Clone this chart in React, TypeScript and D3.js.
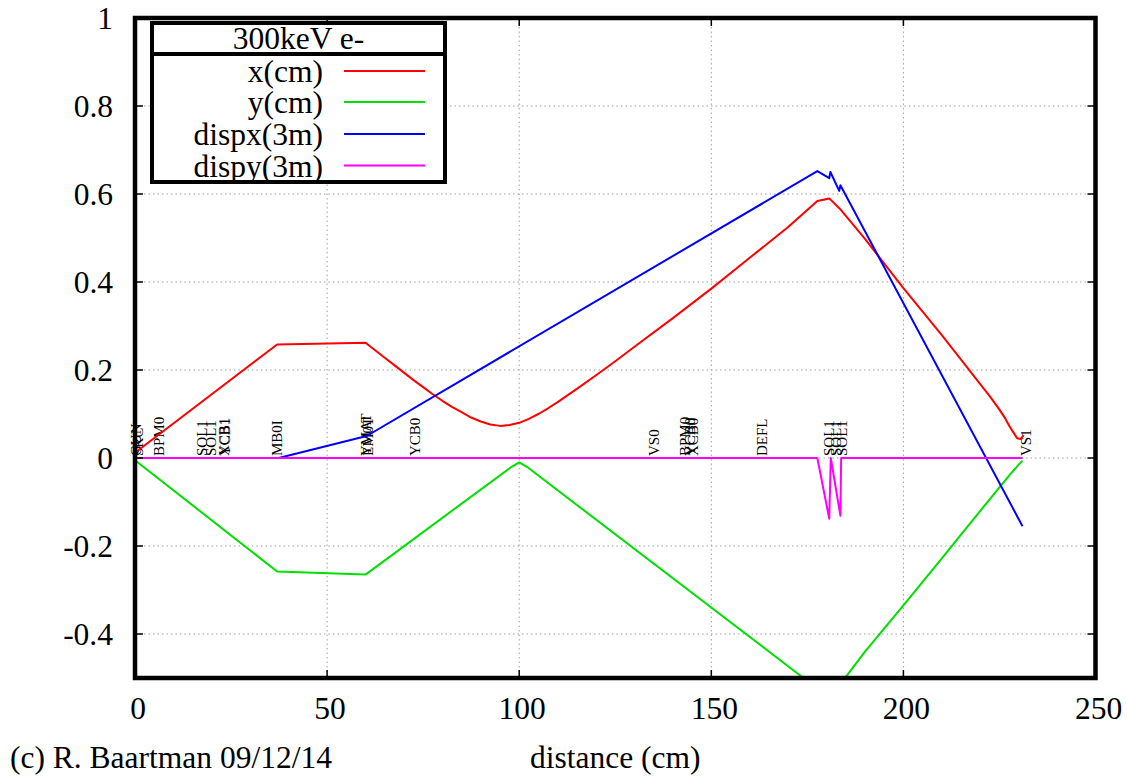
import React from "react";
import * as d3 from "d3";

// ---- data ----
const xTicks = [0, 50, 100, 150, 200, 250];
const yTicks = [1, 0.8, 0.6, 0.4, 0.2, 0, -0.2, -0.4];
const yTickLabels = ["1", "0.8", "0.6", "0.4", "0.2", "0", "-0.2", "-0.4"];

// x(cm) envelope
const xcmS = [0, 37, 60, 62.5, 65, 67.5, 70, 72.5, 75, 77.5, 80, 82.5, 85, 87.5, 90, 92.5, 95, 97.5, 100, 102.5, 105, 107.5, 110, 115, 120, 125, 130, 140, 150, 160, 170, 177.6, 180.7, 183.5, 190, 200, 210, 220, 222.5, 225, 226.5, 227.5, 228.5, 229.6, 230.5, 231.3];
const xcmV = [0.012, 0.258, 0.262, 0.245, 0.228, 0.211, 0.194, 0.177, 0.161, 0.145, 0.13, 0.116, 0.104, 0.092, 0.083, 0.076, 0.073, 0.075, 0.08, 0.089, 0.1, 0.113, 0.127, 0.157, 0.188, 0.22, 0.253, 0.318, 0.385, 0.455, 0.525, 0.584, 0.59, 0.566, 0.498, 0.386, 0.279, 0.168, 0.14, 0.11, 0.09, 0.074, 0.06, 0.045, 0.043, 0.052];

// y(cm) envelope (negative)
const ycmS = [0, 37, 60, 98, 100, 102, 174, 177.6, 180.7, 183.5, 190, 200, 210, 220, 228, 230, 231];
const ycmV = [-0.005, -0.258, -0.265, -0.02, -0.01, -0.02, -0.5, -0.523, -0.53, -0.515, -0.44, -0.335, -0.228, -0.12, -0.035, -0.015, -0.006];

// dispersion x (3m)
const dispxS = [37.4, 60.3, 177.6, 180.7, 181.0, 183.3, 183.6, 231];
const dispxV = [0, 0.05, 0.652, 0.636, 0.65, 0.607, 0.62, -0.155];

// dispersion y (3m)
const dispyS = [0, 177.6, 180.7, 181.1, 183.6, 183.8, 231];
const dispyV = [0, 0, -0.138, 0, -0.131, 0, 0];

// beamline element labels
const elemNames = ["GUN", "SRC", "BPM0", "SOL1", "SOL1", "XCB1", "YCB1", "MB0I", "YMAT", "EM0T", "YCB0", "VS0", "BPM0", "YCB0", "XCB0", "DEFL", "SOL1", "SOL1", "SOL1", "VS1"];
const elemPos = [0.3, 0.8, 6.3, 17.4, 19.6, 23.0, 23.4, 36.9, 60.1, 60.6, 72.9, 134.9, 143.2, 144.4, 145.3, 163.2, 180.5, 182.3, 184.0, 231.8];

const seriesNames = ["x(cm)", "y(cm)", "dispx(3m)", "dispy(3m)"];
const seriesColors = ["#ff0000", "#00e000", "#0000ff", "#ff00ff"];
const legendTitle = "300keV e-";
const xTitle = "distance (cm)";
const credit = "(c) R. Baartman 09/12/14";

const W = 1127;
const H = 777;
const FONT = '"Liberation Serif", "Times New Roman", Times, "DejaVu Serif", serif';
const FS = 31.5;

export default function App() {
  const left = 135, right = 1095.5, top = 18, bottom = 678;
  const x = d3.scaleLinear().domain([0, 250]).range([left, right]);
  const y = d3.scaleLinear().domain([-0.5, 1]).range([bottom, top]);

  const series = [
    { s: xcmS, v: xcmV },
    { s: ycmS, v: ycmV },
    { s: dispxS, v: dispxV },
    { s: dispyS, v: dispyV },
  ];
  const line = d3
    .line<[number, number]>()
    .x((d) => x(d[0]))
    .y((d) => y(d[1]));

  const gridX = xTicks.filter((t) => t > 0 && t < 250);
  const gridY = yTicks.filter((t) => t < 1 && t > -0.5);
  const tickLen = 8;

  // legend geometry
  const lgL = 152, lgR = 445, lgT = 23, lgB = 182, lgSep = 54;
  const rowY = [71, 102, 134, 165.5];

  return (
    <svg
      width={W}
      height={H}
      style={{ position: "absolute", left: 0, top: 0, background: "#fff", fontFamily: FONT }}
    >
      <defs>
        <clipPath id="plotclip">
          <rect x={left} y={top} width={right - left} height={bottom - top} />
        </clipPath>
      </defs>
      <rect x={0} y={0} width={W} height={H} fill="#fff" />

      {/* grid */}
      <g stroke="#a0a0a0" strokeWidth={1} strokeDasharray="1.5,3">
        {gridX.map((t) => (
          <line key={"gx" + t} x1={x(t)} x2={x(t)} y1={top} y2={bottom} />
        ))}
        {gridY.map((t) => (
          <line key={"gy" + t} x1={left} x2={right} y1={y(t)} y2={y(t)} />
        ))}
      </g>

      {/* element labels */}
      <g fontSize={15} fill="#000" style={{ fontFamily: FONT }}>
        {elemNames.map((n, i) => (
          <text
            key={"el" + i}
            transform={`translate(${x(elemPos[i])},${y(0) - 2}) rotate(-90)`}
            dy="0.35em"
            textAnchor="start"
          >
            {n}
          </text>
        ))}
      </g>

      {/* curves */}
      <g clipPath="url(#plotclip)" fill="none" strokeWidth={2} strokeLinejoin="round">
        {series.map((sr, i) => (
          <path
            key={"s" + i}
            d={line(sr.s.map((s, j) => [s, sr.v[j]] as [number, number])) || ""}
            stroke={seriesColors[i]}
          />
        ))}
      </g>

      {/* ticks (mirrored) */}
      <g stroke="#000" strokeWidth={1.5}>
        {xTicks.map((t) => (
          <g key={"xt" + t}>
            <line x1={x(t)} x2={x(t)} y1={bottom} y2={bottom - tickLen} />
            <line x1={x(t)} x2={x(t)} y1={top} y2={top + tickLen} />
          </g>
        ))}
        {yTicks.map((t) => (
          <g key={"yt" + t}>
            <line x1={left} x2={left + tickLen} y1={y(t)} y2={y(t)} />
            <line x1={right} x2={right - tickLen} y1={y(t)} y2={y(t)} />
          </g>
        ))}
      </g>

      {/* frame */}
      <rect
        x={left}
        y={top}
        width={right - left}
        height={bottom - top}
        fill="none"
        stroke="#000"
        strokeWidth={4.5}
      />

      {/* tick labels */}
      <g fontSize={FS} fill="#000" style={{ fontFamily: FONT }}>
        {xTicks.map((t) => (
          <text key={"xl" + t} x={x(t) + 3} y={719} textAnchor="middle">
            {String(t)}
          </text>
        ))}
        {yTicks.map((t, i) => (
          <text key={"yl" + t} x={113} y={y(t)} dy="0.35em" textAnchor="end">
            {yTickLabels[i]}
          </text>
        ))}
      </g>

      {/* axis title + credit */}
      <text x={(left + right) / 2} y={768} fontSize={FS} textAnchor="middle" style={{ fontFamily: FONT }}>
        {xTitle}
      </text>
      <text x={10} y={768} fontSize={FS} textAnchor="start" style={{ fontFamily: FONT }}>
        {credit}
      </text>

      {/* legend */}
      <g style={{ fontFamily: FONT }}>
        <rect x={lgL} y={lgT} width={lgR - lgL} height={lgB - lgT} fill="#fff" stroke="#000" strokeWidth={4} />
        <line x1={lgL} x2={lgR} y1={lgSep} y2={lgSep} stroke="#000" strokeWidth={4} />
        <text x={(lgL + lgR) / 2} y={49} fontSize={FS} textAnchor="middle">
          {legendTitle}
        </text>
        {seriesNames.map((n, i) => (
          <g key={"lg" + i}>
            <text x={323} y={rowY[i]} dy="0.35em" fontSize={FS} textAnchor="end">
              {n}
            </text>
            <line x1={344} x2={425} y1={rowY[i]} y2={rowY[i]} stroke={seriesColors[i]} strokeWidth={2} />
          </g>
        ))}
      </g>
    </svg>
  );
}
